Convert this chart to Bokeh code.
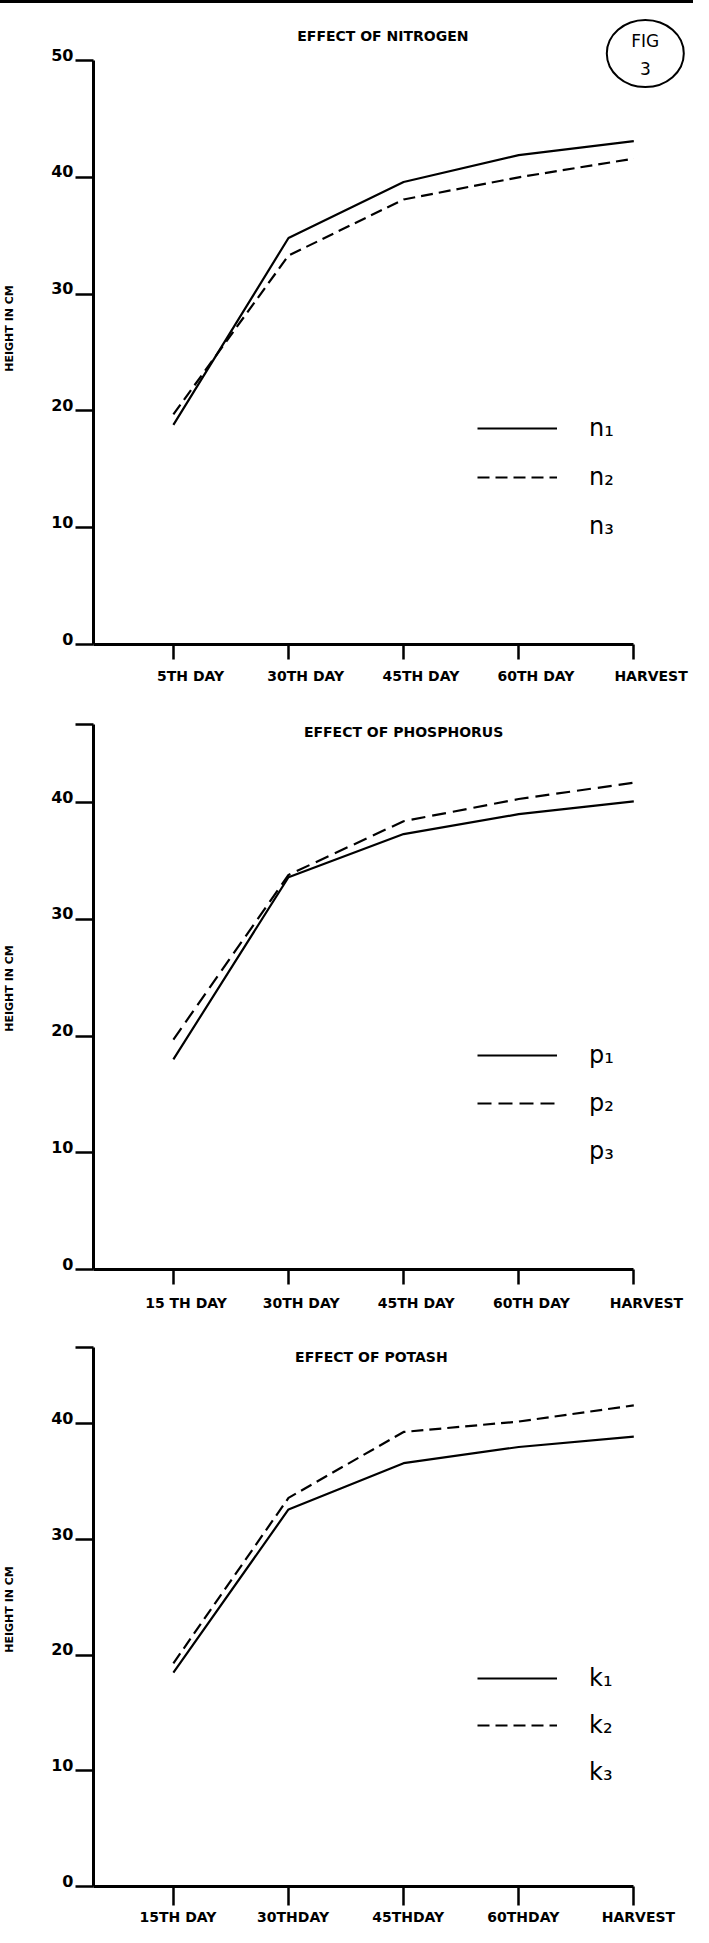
from bokeh.plotting import figure
from bokeh.models import Range1d, LinearAxis, FixedTicker, Legend, LegendItem, Div
from bokeh.layouts import column
from bokeh.embed import file_html
from bokeh.resources import INLINE
from bokeh.core.properties import value

# ---------------- data ----------------
stages = [0, 1, 2, 3, 4]
days_n = ["5TH DAY", "30TH DAY", "45TH DAY", "60TH DAY", "HARVEST"]
days_p = ["15 TH DAY", "30TH DAY", "45TH DAY", "60TH DAY", "HARVEST"]
days_k = ["15TH DAY", "30THDAY", "45THDAY", "60THDAY", "HARVEST"]

n1 = [18.8, 34.8, 39.6, 41.9, 43.1]
n2 = [19.7, 33.3, 38.1, 40.0, 41.6]
p1 = [18.0, 33.6, 37.3, 39.0, 40.1]
p2 = [19.7, 33.8, 38.4, 40.3, 41.7]
k1 = [18.5, 32.6, 36.6, 38.0, 38.9]
k2 = [19.3, 33.6, 39.3, 40.2, 41.6]

y_ticks = [0, 10, 20, 30, 40, 50]

FN = "DejaVu Sans"
FONT = value(FN)


def panel(height, top, bottom, y_end, y_cap, x_shift, title, title_xy,
          days, s1, s2, names, legend_y, spacing, dash, tick_out_x, lab_standoff,
          fig_label=False):
    x0, x1 = -0.694, 4.51
    p = figure(width=693, height=height, x_range=Range1d(x0, x1),
               y_range=Range1d(0, y_end), output_backend="svg",
               toolbar_location=None, x_axis_type=None, y_axis_type=None,
               min_border_left=92, min_border_right=1, min_border_top=top,
               min_border_bottom=bottom)
    p.outline_line_color = None
    p.background_fill_color = "white"
    p.border_fill_color = "white"
    p.extra_x_ranges = {"xl": Range1d(x0 - x_shift, x1 - x_shift)}
    p.extra_y_ranges = {"yl": Range1d(-0.5, y_end - 0.5)}

    # x axis line + tick marks (drawn as minor ticks, so no hidden labels)
    xa = LinearAxis(ticker=FixedTicker(ticks=[], minor_ticks=stages), bounds=(x0, 4.0),
                    axis_line_width=3, major_tick_out=tick_out_x, major_tick_in=0,
                    minor_tick_line_width=2.5, minor_tick_line_color="black",
                    minor_tick_out=tick_out_x, minor_tick_in=0,
                    major_label_standoff=0)
    # x tick labels (slightly right of the tick marks, as in the hand drawing)
    overrides = {i: d for i, d in zip(stages, days)}
    xl = LinearAxis(x_range_name="xl", ticker=FixedTicker(ticks=stages),
                    major_label_overrides=overrides,
                    axis_line_color=None, major_tick_line_color=None,
                    minor_tick_line_color=None, major_tick_out=0, major_tick_in=0,
                    major_label_standoff=lab_standoff,
                    major_label_text_font=FN, major_label_text_font_style="bold",
                    major_label_text_font_size="14px", major_label_text_color="black")
    p.add_layout(xa, "below")
    p.add_layout(xl, "below")

    caps = [t for t in y_ticks if t <= y_cap]
    if y_cap not in caps:
        caps.append(y_cap)
    ya = LinearAxis(ticker=FixedTicker(ticks=[], minor_ticks=caps), bounds=(0, y_cap),
                    axis_line_width=3, major_tick_out=18, major_tick_in=0,
                    minor_tick_line_width=2.5, minor_tick_line_color="black",
                    minor_tick_out=18, minor_tick_in=0,
                    major_label_standoff=0)
    yl = LinearAxis(y_range_name="yl",
                    ticker=FixedTicker(ticks=[t for t in y_ticks if t <= y_cap]),
                    axis_line_color=None, major_tick_line_color=None,
                    minor_tick_line_color=None, major_tick_out=0, major_tick_in=0,
                    major_label_standoff=2,
                    major_label_text_font=FN, major_label_text_font_style="bold",
                    major_label_text_font_size="16px", major_label_text_color="black",
                    axis_label="HEIGHT IN CM", axis_label_standoff=32,
                    axis_label_text_font=FN, axis_label_text_font_style="bold",
                    axis_label_text_font_size="11px", axis_label_text_color="black")
    p.add_layout(ya, "left")
    p.add_layout(yl, "left")

    r1 = p.line(stages, s1, line_color="black", line_width=2.2)
    r2 = p.line(stages, s2, line_color="black", line_width=2.2, line_dash=dash)
    r3 = p.line([], [], line_color="black", line_alpha=0)

    p.text(x=[title_xy[0]], y=[title_xy[1]], text=[title], text_align="center",
           text_baseline="middle", text_font=FONT, text_font_style="bold",
           text_font_size="14px", text_color="black")

    if fig_label:
        p.ellipse(x=[4.10], y=[50.6], width=77, height=67,
                  width_units="screen", height_units="screen",
                  fill_color=None, line_color="black", line_width=2)
        p.text(x=[4.10, 4.10], y=[51.7, 49.3], text=["FIG", "3"], text_align="center",
               text_baseline="middle", text_font=FONT, text_font_size="17px",
               text_color="black")

    leg = Legend(items=[LegendItem(label=names[0], renderers=[r1]),
                        LegendItem(label=names[1], renderers=[r2]),
                        LegendItem(label=names[2], renderers=[r3])],
                 location=(384, legend_y), orientation="vertical",
                 glyph_width=80, glyph_height=20, label_height=20,
                 label_standoff=32, spacing=spacing, padding=0, margin=0,
                 border_line_color=None, background_fill_alpha=0,
                 label_text_font=FN, label_text_font_size="24px",
                 label_text_color="black")
    p.add_layout(leg, "center")
    return p


top_rule = Div(text="", width=693, height=3, margin=(0, 0, 0, 0),
               styles={"background-color": "black"})

f1 = panel(689, 9, 48, 54.11, 50, 0.15, "EFFECT OF NITROGEN", (1.82, 52.1),
           days_n, n1, n2, ["n\u2081", "n\u2082", "n\u2083"], 104, 21,
           "12 6", 15, 8, fig_label=True)
f2 = panel(625, 15, 48, 48.14, 46.7, 0.11, "EFFECT OF PHOSPHORUS", (2.0, 46.0),
           days_p, p1, p2, ["p\u2081", "p\u2082", "p\u2083"], 104, 20,
           "14 7", 15, 10)
f3 = panel(610, 15, 37, 47.90, 46.6, 0.04, "EFFECT OF POTASH", (1.72, 45.75),
           days_k, k1, k2, ["k\u2081", "k\u2082", "k\u2083"], 100, 19,
           "12 6", 19, 3)

layout = column(top_rule, f1, f2, f3, spacing=0)
open("out.html", "w").write(file_html(layout, INLINE))
